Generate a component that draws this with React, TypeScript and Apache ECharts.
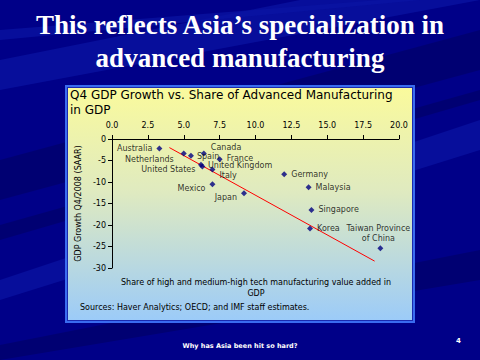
import React, { useEffect, useRef } from "react";
import * as echarts from "echarts";

const countries = [
  "Australia", "Netherlands", "Spain", "Canada", "France", "United Kingdom",
  "United States", "Italy", "Mexico", "Japan", "Germany", "Malaysia",
  "Singapore", "Korea", "Taiwan Province\nof China",
];
const advShare = [3.3, 5.0, 5.5, 6.4, 7.5, 6.2, 6.3, 7.0, 7.0, 9.2, 12.0, 13.7, 13.9, 13.8, 18.7];
const gdpGrowth = [-2.2, -3.4, -3.9, -3.4, -4.7, -6.0, -6.4, -7.1, -10.5, -12.6, -8.2, -11.2, -16.5, -20.8, -25.4];
const trendX = [4.0, 18.3];
const trendY = [-2.0, -28.4];
const xTicks = ["0.0", "2.5", "5.0", "7.5", "10.0", "12.5", "15.0", "17.5", "20.0"];

const labelPlacement: Record<string, { position: string; offset: number[] }> = {
  Australia: { position: "left", offset: [0, 0] },
  Netherlands: { position: "left", offset: [-3, 6] },
  Spain: { position: "right", offset: [-1, 1] },
  Canada: { position: "right", offset: [0, -6] },
  France: { position: "right", offset: [0, -1] },
  "United Kingdom": { position: "right", offset: [0, 1] },
  "United States": { position: "left", offset: [0, 3] },
  Italy: { position: "right", offset: [0, 6] },
  Mexico: { position: "left", offset: [0, 4] },
  Japan: { position: "left", offset: [0, 4] },
  Germany: { position: "right", offset: [0, 0] },
  Malaysia: { position: "right", offset: [0, 0] },
  Singapore: { position: "right", offset: [0, 0] },
  Korea: { position: "right", offset: [0, 0] },
  "Taiwan Province\nof China": { position: "top", offset: [-2, 2] },
};

const FONT = "'DejaVu Sans', Verdana, sans-serif";

export default function App() {
  const ref = useRef<HTMLDivElement>(null);
  useEffect(() => {
    if (!ref.current) return;
    const chart = echarts.init(ref.current, null, { renderer: "svg" });
    const scatterData = countries.map((c, i) => ({
      value: [advShare[i], gdpGrowth[i]],
      name: c,
      label: {
        show: true,
        formatter: c,
        position: labelPlacement[c].position,
        offset: labelPlacement[c].offset,
        distance: 4,
        color: "#000",
        fontSize: 8,
        fontFamily: FONT,
        lineHeight: 10,
        align: labelPlacement[c].position === "top" ? "center" : undefined,
      },
    }));
    const streaks = [
      [[480, 0], [300, 0], [0, 60], [0, 90]],
      [[480, 30], [480, 70], [0, 200], [0, 160]],
      [[480, 120], [480, 150], [0, 300], [0, 280]],
      [[480, 250], [480, 280], [0, 360], [0, 345]],
      [[420, 0], [380, 0], [0, 30], [0, 40]],
      [[480, 90], [480, 100], [0, 240], [0, 225]],
    ];
    chart.setOption({
      animation: false,
      backgroundColor: "#000088",
      graphic: [
        ...streaks.map((pts, i) => ({
          type: "polygon",
          z: -10,
          silent: true,
          shape: { points: pts },
          style: { fill: i % 2 === 0 ? "#0a14a4" : "#00006a", opacity: 0.7 },
        })),
        {
          type: "rect",
          z: -5,
          shape: { x: 65, y: 85, width: 350, height: 238 },
          style: { fill: "#3a6cf0" },
        },
        {
          type: "rect",
          z: -4,
          shape: { x: 67, y: 87, width: 346, height: 234 },
          style: { fill: "#1a2ab0" },
        },
        {
          type: "rect",
          z: -3,
          shape: { x: 68, y: 88, width: 344, height: 232 },
          style: {
            fill: new echarts.graphic.LinearGradient(0, 0, 0, 1, [
              { offset: 0, color: "#fafa9c" },
              { offset: 0.45, color: "#dfeac0" },
              { offset: 1, color: "#9ccbf8" },
            ]),
          },
        },
        {
          type: "text",
          x: 240,
          y: 8,
          style: {
            text: "This reflects Asia’s specialization in\nadvanced manufacturing",
            fill: "#fff",
            font: "bold 27px 'Liberation Serif', 'Times New Roman', serif",
            align: "center",
            lineHeight: 33,
            shadowColor: "#000",
            shadowOffsetX: 2,
            shadowOffsetY: 2,
            shadowBlur: 0,
          },
        },
        {
          type: "text",
          x: 70,
          y: 87,
          style: {
            text: "Q4 GDP Growth vs. Share of Advanced Manufacturing\nin GDP",
            fill: "#000",
            font: `12px ${FONT}`,
            lineHeight: 15,
          },
        },
        {
          type: "text",
          x: 256,
          y: 277,
          style: {
            text: "Share of high and medium-high tech manufacturing value added in\nGDP",
            fill: "#000",
            font: `8px ${FONT}`,
            align: "center",
            lineHeight: 11,
          },
        },
        {
          type: "text",
          x: 80,
          y: 303,
          style: {
            text: "Sources: Haver Analytics; OECD; and IMF staff estimates.",
            fill: "#000",
            font: `8px ${FONT}`,
          },
        },
        {
          type: "text",
          x: 240,
          y: 342,
          style: {
            text: "Why has Asia been hit so hard?",
            fill: "#fff",
            font: `bold 6.5px ${FONT}`,
            align: "center",
          },
        },
        {
          type: "text",
          x: 456,
          y: 337,
          style: { text: "4", fill: "#fff", font: `bold 7px ${FONT}` },
        },
      ],
      grid: { left: 112, right: 81, top: 139, bottom: 92, containLabel: false },
      xAxis: {
        type: "value",
        position: "top",
        min: 0,
        max: 20,
        interval: 2.5,
        axisLine: { show: true, lineStyle: { color: "#000", width: 1 } },
        axisTick: { show: true, length: 4, lineStyle: { color: "#000" } },
        splitLine: { show: false },
        axisLabel: {
          color: "#000",
          fontSize: 8,
          fontFamily: FONT,
          margin: 10,
          formatter: (v: number) => xTicks[Math.round(v / 2.5)] ?? "",
        },
      },
      yAxis: {
        type: "value",
        min: -30,
        max: 0,
        interval: 5,
        name: "GDP Growth Q4/2008 (SAAR)",
        nameLocation: "middle",
        nameGap: 15,
        nameRotate: 90,
        nameTextStyle: { color: "#000", fontSize: 8, fontFamily: FONT },
        axisLine: { show: true, lineStyle: { color: "#000", width: 1 } },
        axisTick: { show: true, length: 4, lineStyle: { color: "#000" } },
        splitLine: { show: false },
        axisLabel: { color: "#000", fontSize: 8, fontFamily: FONT, margin: 6 },
      },
      series: [
        {
          type: "line",
          data: trendX.map((x, i) => [x, trendY[i]]),
          showSymbol: false,
          symbol: "none",
          lineStyle: { color: "#ff0000", width: 1 },
          z: 1,
        },
        {
          type: "scatter",
          data: scatterData,
          symbol: "diamond",
          symbolSize: 6,
          itemStyle: { color: "#000080" },
          z: 2,
        },
      ],
    });
    return () => chart.dispose();
  }, []);
  return (
    <div
      ref={ref}
      style={{ position: "fixed", left: 0, top: 0, width: 480, height: 360 }}
    />
  );
}
